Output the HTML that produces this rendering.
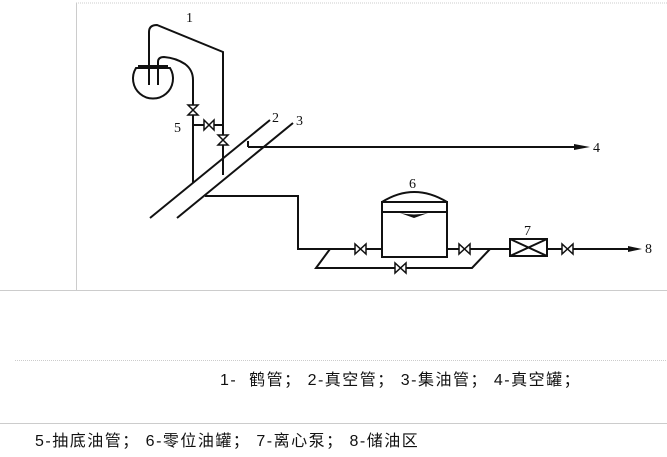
<!DOCTYPE html>
<html><head><meta charset="utf-8"><style>
body{margin:0;background:#fff;width:667px;height:457px;overflow:hidden;position:relative;font-family:"Liberation Sans","Noto Sans CJK SC",sans-serif;}
.t{position:absolute;font-size:16px;color:#111;white-space:nowrap;letter-spacing:1.5px;}
</style></head><body>
<svg width="667" height="457" style="position:absolute;left:0;top:0" xmlns="http://www.w3.org/2000/svg">
<g stroke="#ccc" stroke-width="1" fill="none">
<line x1="76" y1="3" x2="667" y2="3" stroke-dasharray="1,1"/>
<line x1="76.5" y1="3" x2="76.5" y2="290"/>
<line x1="0" y1="290.5" x2="667" y2="290.5"/>
<line x1="15" y1="360.5" x2="667" y2="360.5" stroke-dasharray="1,1"/>
<line x1="0" y1="423.5" x2="667" y2="423.5"/>
</g>
<g stroke="#111" stroke-width="2" fill="none">
<path d="M149,85 V32 Q149,25 157,25 L223,52 V175"/>
<path d="M158,85 V62 Q158,57 164,57 Q176,58 185,64 Q193,70 193,80 V183"/>
<line x1="193" y1="125" x2="223" y2="125"/>
<path d="M136,68 A20,20 0 1 0 170,68 Z"/>
<line x1="138" y1="66" x2="168" y2="66"/>
<line x1="150" y1="218" x2="270" y2="120"/>
<line x1="177" y1="218" x2="293" y2="123"/>
<path d="M248,147 H578"/>
<line x1="248" y1="141" x2="248" y2="147"/>
<path d="M205,196 H298 V249 H382"/>
<rect x="382" y="202" width="65" height="55"/>
<path d="M382,202 Q414,182 447,202"/>
<line x1="382" y1="212" x2="447" y2="212"/>
<path d="M447,249 H510"/>
<rect x="510" y="239" width="37" height="17"/>
<path d="M510,239 L547,256 M510,256 L547,239"/>
<path d="M547,249 H630"/>
<path d="M330,249 L316,268 H472 L490,249"/>
</g>
<polygon points="574,144 590,147 574,150" fill="#111"/>
<polygon points="628,246 642,249 628,252" fill="#111"/>
<path d="M400,213 Q414,216 428,213 L414,218 Z" fill="#111"/>
<g fill="#fff" stroke="#111" stroke-width="1.5">
<path d="M188,105 L198,105 L188,115 L198,115 Z"/>
<path d="M218,135 L228,135 L218,145 L228,145 Z"/>
<path d="M204,120 L204,130 L214,120 L214,130 Z"/>
<path d="M355,244 L355,254 L366,244 L366,254 Z"/>
<path d="M459,244 L459,254 L470,244 L470,254 Z"/>
<path d="M395,263 L395,273 L406,263 L406,273 Z"/>
<path d="M562,244 L562,254 L573,244 L573,254 Z"/>
</g>
<g font-family="Liberation Serif,serif" font-size="14" fill="#111">
<text x="186" y="22">1</text>
<text x="174" y="132">5</text>
<text x="272" y="122">2</text>
<text x="296" y="125">3</text>
<text x="593" y="152">4</text>
<text x="409" y="188">6</text>
<text x="524" y="235">7</text>
<text x="645" y="253">8</text>
</g>
</svg>
<div class="t" style="left:220px;top:366px">1- &nbsp;鹤管； 2-真空管； 3-集油管； 4-真空罐；</div>
<div class="t" style="left:35px;top:427px">5-抽底油管； 6-零位油罐； 7-离心泵； 8-储油区</div>
</body></html>
